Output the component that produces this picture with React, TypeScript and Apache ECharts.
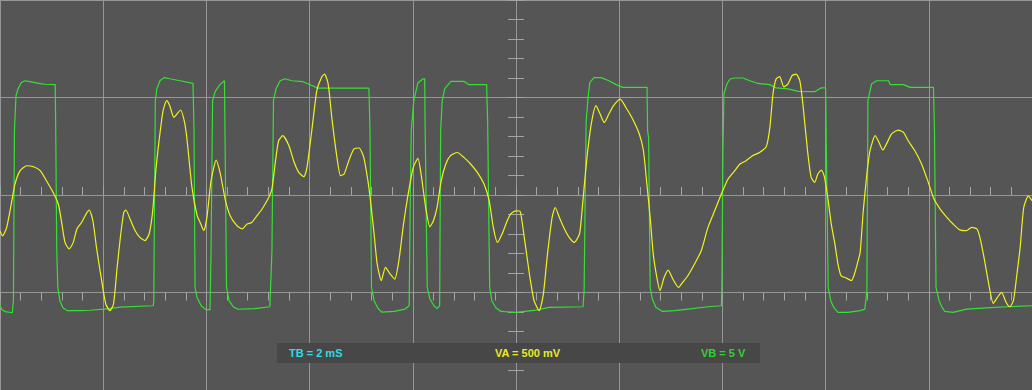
import React, { useEffect, useRef } from "react";
import * as echarts from "echarts";

// Time base: 2 ms / division, 10 divisions
const timeRangeMs = [0, 20];
const timeDivisionMs = 2;
// Channel A: 500 mV / division, 4 divisions
const voltARangeMv = [-1000, 1000];
const voltADivisionMv = 500;
// Channel B: 5 V / division
const voltBRangeV = [-10, 10];

const scaleLabels = ["TB = 2 mS", "VA = 500 mV", "VB = 5 V"];

// Channel A (yellow) samples: [time ms, mV]
const channelA: [number, number][] = [
  [0, -185], [0.05, -210], [0.13, -166], [0.23, -29], [0.29, 56], [0.39, 125], [0.52, 150], [0.65, 145], [0.78, 125], [0.9, 73],
  [1.03, 13], [1.13, -46], [1.2, -149], [1.26, -243], [1.34, -277], [1.42, -243], [1.49, -174], [1.58, -141], [1.67, -97], [1.73, -77],
  [1.8, -132], [1.87, -269], [1.97, -439], [2.05, -559], [2.13, -593], [2.2, -559], [2.27, -371], [2.34, -200], [2.4, -89], [2.44, -77],
  [2.52, -123], [2.62, -183], [2.71, -217], [2.81, -234], [2.89, -200], [2.96, -81], [3.02, 125], [3.09, 295], [3.16, 432], [3.23, 484],
  [3.29, 458], [3.37, 398], [3.5, 436], [3.57, 381], [3.62, 295], [3.72, 39], [3.82, -106], [3.88, -142], [3.95, -183], [4.01, -115],
  [4.09, 73], [4.19, 179], [4.27, 108], [4.37, -29], [4.46, -106], [4.59, -157], [4.69, -174], [4.79, -149], [4.88, -141], [4.98, -106],
  [5.08, -72], [5.21, -12], [5.27, 31], [5.34, 176], [5.4, 278], [5.48, 304], [5.6, 253], [5.69, 176], [5.79, 116], [5.89, 94],
  [5.95, 142], [6.05, 347], [6.14, 535], [6.23, 603], [6.29, 620], [6.36, 569], [6.43, 398], [6.53, 193], [6.6, 99], [6.67, 108],
  [6.76, 176], [6.86, 236], [6.96, 241], [7.05, 193], [7.13, 73], [7.18, -29], [7.25, -200], [7.31, -354], [7.39, -439], [7.47, -371],
  [7.56, -405], [7.65, -431], [7.73, -337], [7.82, -149], [7.91, 5], [8.01, 142], [8.1, 188], [8.16, 108], [8.25, -64], [8.33, -163],
  [8.4, -132], [8.47, -64], [8.55, 73], [8.64, 159], [8.73, 202], [8.86, 218], [8.99, 193], [9.12, 159], [9.25, 116], [9.38, 56],
  [9.48, -29], [9.56, -166], [9.64, -243], [9.73, -200], [9.83, -132], [9.9, -97], [10.0, -81], [10.08, -84], [10.16, -217], [10.26, -405],
  [10.35, -542], [10.45, -593], [10.53, -508], [10.61, -303], [10.7, -115], [10.76, -64], [10.84, -115], [10.94, -174], [11.03, -217], [11.13, -243],
  [11.23, -200], [11.28, -81], [11.32, 39], [11.39, 227], [11.47, 381], [11.55, 458], [11.63, 415], [11.71, 372], [11.8, 415], [11.89, 458],
  [12.02, 492], [12.13, 449], [12.26, 390], [12.39, 313], [12.47, 227], [12.53, 73], [12.6, -115], [12.66, -303], [12.73, -423], [12.79, -491],
  [12.87, -423], [12.95, -385], [13.04, -431], [13.15, -474], [13.23, -448], [13.33, -414], [13.46, -354], [13.59, -286], [13.72, -166], [13.85, -81],
  [13.98, 5], [14.11, 82], [14.24, 125], [14.34, 159], [14.46, 176], [14.59, 202], [14.72, 218], [14.85, 248], [14.92, 347], [14.98, 518],
  [15.04, 595], [15.11, 607], [15.19, 555], [15.27, 569], [15.35, 612], [15.43, 620], [15.5, 586], [15.56, 467], [15.65, 227], [15.72, 90],
  [15.79, 65], [15.85, 108], [15.92, 128], [15.98, 90], [16.05, -29], [16.11, -149], [16.18, -251], [16.24, -354], [16.3, -414], [16.4, -426],
  [16.5, -439], [16.56, -405], [16.63, -337], [16.67, -294], [16.73, -81], [16.8, 108], [16.86, 227], [16.96, 304], [17.02, 278], [17.11, 231],
  [17.18, 262], [17.28, 313], [17.41, 333], [17.51, 321], [17.6, 278], [17.73, 227], [17.86, 159], [17.99, 65], [18.1, -21], [18.22, -72],
  [18.35, -115], [18.47, -149], [18.6, -179], [18.73, -183], [18.83, -166], [18.93, -174], [18.99, -217], [19.07, -320], [19.15, -439], [19.25, -556],
  [19.33, -525], [19.41, -499], [19.5, -551], [19.57, -573], [19.64, -542], [19.7, -423], [19.77, -269], [19.84, -64], [19.93, -4], [20.0, -29],
];

// Channel B (green) samples: [time ms, V]
const channelB: [number, number][] = [
  [0, -5.68], [0.04, -5.88], [0.1, -5.98], [0.24, -6.04], [0.26, -5.4], [0.28, 3.3], [0.31, 5.09], [0.35, 5.45], [0.41, 5.76], [0.48, 5.86],
  [0.58, 5.81], [0.68, 5.76], [0.78, 5.71], [0.87, 5.68], [1.07, 5.66],
  [1.08, 3.3], [1.1, -2.86], [1.12, -4.74], [1.16, -5.42], [1.22, -5.78], [1.3, -5.93], [1.55, -5.93], [1.74, -5.91], [2.13, -5.83], [2.33, -5.75], [2.97, -5.68],
  [2.98, -5.42], [3.01, 4.84], [3.04, 5.45], [3.1, 5.86], [3.18, 6.02], [3.29, 5.96], [3.49, 5.86], [3.74, 5.72],
  [3.76, 3.3], [3.78, -4.74], [3.82, -5.27], [3.9, -5.68], [3.99, -5.88], [4.07, -5.88],
  [4.09, -2.86], [4.12, 4.84], [4.17, 5.3], [4.26, 5.66], [4.35, 5.86],
  [4.36, 3.3], [4.39, -4.74], [4.44, -5.42], [4.52, -5.73], [4.61, -5.86], [4.94, -5.83], [5.23, -5.73],
  [5.27, -2.86], [5.3, 4.84], [5.35, 5.45], [5.43, 5.86], [5.52, 5.96], [5.66, 5.86], [5.87, 5.81], [5.99, 5.68], [6.16, 5.48], [7.15, 5.48],
  [7.17, 3.3], [7.2, -4.74], [7.25, -5.42], [7.33, -5.83], [7.4, -6.01], [7.64, -5.97], [7.85, -5.85],
  [7.93, -5.68], [7.95, -0.29], [7.97, 3.3], [8.02, 4.84], [8.1, 5.76], [8.2, 5.96], [8.23, 5.96],
  [8.24, 3.3], [8.28, -4.74], [8.33, -5.32], [8.41, -5.68], [8.47, -5.83], [8.52, -5.68],
  [8.54, 3.3], [8.57, 4.84], [8.62, 5.45], [8.74, 5.83], [8.99, 5.83], [9.09, 5.66], [9.43, 5.66],
  [9.45, 3.81], [9.49, -4.74], [9.53, -5.42], [9.61, -5.78], [9.71, -5.97], [10.0, -6.02], [10.39, -5.9], [10.64, -5.76], [11.3, -5.73],
  [11.32, -4.91], [11.34, -0.29], [11.36, 3.81], [11.4, 5.09], [11.43, 5.76], [11.51, 6.02], [11.65, 6.02], [11.8, 5.86], [11.94, 5.66], [12.07, 5.52], [12.54, 5.52],
  [12.55, 3.3], [12.57, 2.94], [12.6, -4.74], [12.64, -5.32], [12.71, -5.76], [12.84, -5.97], [13.08, -5.93], [13.33, -5.85], [13.72, -5.73], [13.98, -5.68],
  [13.99, -4.74], [14.01, 2.27], [14.03, 5.19], [14.09, 5.71], [14.15, 5.95], [14.24, 6.0], [14.4, 6.0], [14.53, 5.86], [14.69, 5.72], [14.92, 5.66],
  [15.04, 5.49], [15.27, 5.44], [15.47, 5.31], [15.79, 5.3], [15.91, 5.49], [16.0, 5.49],
  [16.01, 3.3], [16.05, -4.74], [16.1, -5.42], [16.16, -5.78], [16.24, -6.02], [16.43, -6.02], [16.67, -5.93], [16.76, -5.85],
  [16.8, -4.91], [16.82, 4.84], [16.89, 5.69], [16.99, 5.86], [17.22, 5.86], [17.25, 5.66], [17.51, 5.66], [17.64, 5.52], [18.09, 5.52],
  [18.11, 3.3], [18.14, -4.74], [18.2, -5.42], [18.26, -5.78], [18.31, -5.97], [18.47, -6.02], [18.73, -5.85], [19.12, -5.79], [19.51, -5.73], [20.0, -5.68],
];

const BG = "#555555";
const GRID = "#979797";
const TICK = "#a5a5a5";
const YELLOW = "#f2f21e";
const GREEN = "#36e036";
const FONT = 'bold 11px "Liberation Sans", Arial, sans-serif';

const hidden = { show: false };

function tickAxis(inside: boolean, extra: any) {
  return {
    type: "value",
    axisLine: { show: false },
    axisLabel: { show: false },
    splitLine: { show: false },
    axisTick: { show: true, inside, length: 8, lineStyle: { color: TICK, width: 1 } },
    minorTick: { show: true, splitNumber: 5, length: 8, lineStyle: { color: TICK, width: 1 } },
    ...extra,
  };
}

export default function App() {
  const ref = useRef<HTMLDivElement>(null);

  useEffect(() => {
    if (!ref.current) return;
    const chart = echarts.init(ref.current, undefined, { renderer: "svg" });
    const option: any = {
      animation: false,
      backgroundColor: BG,
      grid: [
        { left: 0, right: 0, top: 0, bottom: 0 },
        { left: 516, right: 0, top: 0, bottom: 0 },
        { left: 0, right: 0, top: 195, bottom: 0 },
      ],
      xAxis: [
        {
          type: "value",
          gridIndex: 0,
          min: timeRangeMs[0],
          max: timeRangeMs[1],
          interval: timeDivisionMs,
          axisLine: hidden,
          axisTick: hidden,
          axisLabel: hidden,
          splitLine: { show: true, lineStyle: { color: GRID, width: 1 } },
        },
        { type: "value", gridIndex: 1, min: 0, max: 10, show: false },
        tickAxis(true, { gridIndex: 2, position: "top", min: timeRangeMs[0], max: timeRangeMs[1], interval: timeDivisionMs }),
        tickAxis(false, { gridIndex: 2, position: "top", min: timeRangeMs[0], max: timeRangeMs[1], interval: timeDivisionMs }),
      ],
      yAxis: [
        {
          type: "value",
          gridIndex: 0,
          min: voltARangeMv[0],
          max: voltARangeMv[1],
          interval: voltADivisionMv,
          axisLine: hidden,
          axisTick: hidden,
          axisLabel: hidden,
          splitLine: { show: true, lineStyle: { color: GRID, width: 1 } },
        },
        { type: "value", gridIndex: 0, min: voltBRangeV[0], max: voltBRangeV[1], show: false },
        tickAxis(true, { gridIndex: 1, position: "left", min: voltARangeMv[0], max: voltARangeMv[1], interval: voltADivisionMv }),
        tickAxis(false, { gridIndex: 1, position: "left", min: voltARangeMv[0], max: voltARangeMv[1], interval: voltADivisionMv }),
        { type: "value", gridIndex: 2, min: -1, max: 1, show: false },
      ],
      series: [
        {
          name: "VB",
          type: "line",
          xAxisIndex: 0,
          yAxisIndex: 1,
          data: channelB,
          showSymbol: false,
          symbol: "none",
          lineStyle: { color: GREEN, width: 1.2 },
          z: 3,
        },
        {
          name: "VA",
          type: "line",
          xAxisIndex: 0,
          yAxisIndex: 0,
          data: channelA,
          showSymbol: false,
          symbol: "none",
          smooth: 0.2,
          lineStyle: { color: YELLOW, width: 1.2 },
          z: 4,
        },
      ],
      graphic: [
        {
          type: "rect",
          z: 100,
          shape: { x: 277, y: 343, width: 483, height: 20 },
          style: { fill: "#474747" },
        },
        {
          type: "text",
          z: 101,
          x: 289,
          y: 353,
          style: { text: scaleLabels[0], fill: "#33d9e2", font: FONT, align: "left", verticalAlign: "middle" },
        },
        {
          type: "text",
          z: 101,
          x: 495,
          y: 353,
          style: { text: scaleLabels[1], fill: "#e9e925", font: FONT, align: "left", verticalAlign: "middle" },
        },
        {
          type: "text",
          z: 101,
          x: 701,
          y: 353,
          style: { text: scaleLabels[2], fill: "#2fd32f", font: FONT, align: "left", verticalAlign: "middle" },
        },
      ],
    };
    chart.setOption(option);
    return () => chart.dispose();
  }, []);

  return (
    <div
      ref={ref}
      style={{ position: "absolute", left: 0, top: 0, width: 1032, height: 390 }}
    />
  );
}
